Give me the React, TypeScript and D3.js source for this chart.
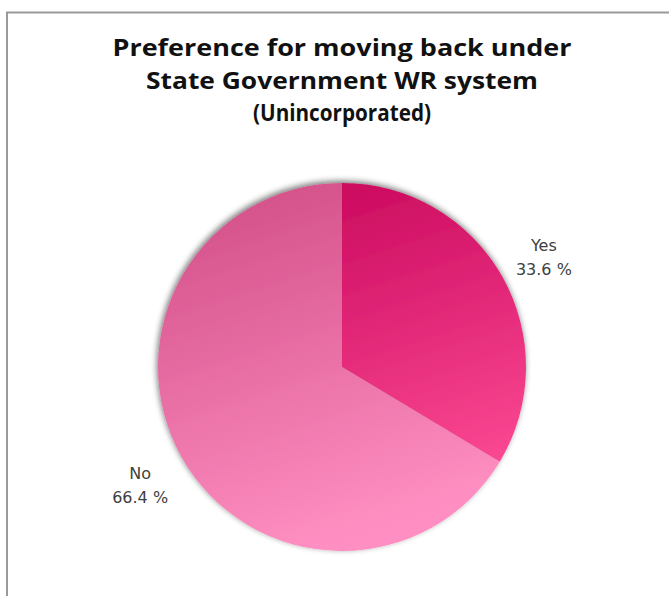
import React from "react";
import * as d3 from "d3";

const categories = ["Yes", "No"];
const values = [33.6, 66.4];
const valueLabels = ["33.6 %", "66.4 %"];
const titleLines = [
  "Preference for moving back under",
  "State Government WR system",
  "(Unincorporated)",
];
const titleWidths = [459, 392, 178];
const gradTop = ["#C8075C", "#D4528A"];
const gradBottom = ["#FF4D97", "#FF8FC2"];

const W = 669;
const H = 596;
const cx = 342;
const cy = 367;
const R = 184;

export default function App() {
  const pie = d3
    .pie<number>()
    .sort(null)
    .startAngle(0)
    .endAngle(2 * Math.PI)
    .value((d) => d);
  const arcs = pie(values);
  const arc = d3.arc<d3.PieArcDatum<number>>().innerRadius(0).outerRadius(R);
  const labelArc = d3
    .arc<d3.PieArcDatum<number>>()
    .innerRadius(232)
    .outerRadius(232);

  return (
    <svg
      width={W}
      height={H}
      style={{ position: "absolute", left: 0, top: 0, background: "#fff" }}
    >
      <defs>
        {categories.map((c, i) => (
          <linearGradient
            key={c}
            id={`g${i}`}
            gradientUnits="userSpaceOnUse"
            x1={-R * 0.3}
            y1={-R}
            x2={R * 0.3}
            y2={R * 0.85}
          >
            <stop offset="0" stopColor={gradTop[i]} />
            <stop offset="1" stopColor={gradBottom[i]} />
          </linearGradient>
        ))}
        <filter id="sh" x="-20%" y="-20%" width="140%" height="140%">
          <feGaussianBlur in="SourceAlpha" stdDeviation="3" />
          <feOffset dx="-1" dy="-2" result="b" />
          <feComponentTransfer>
            <feFuncA type="linear" slope="0.55" />
          </feComponentTransfer>
          <feMerge>
            <feMergeNode />
            <feMergeNode in="SourceGraphic" />
          </feMerge>
        </filter>
      </defs>
      <rect
        x={7}
        y={12.5}
        width={W + 10}
        height={H + 10}
        fill="#fff"
        stroke="#9a9a9a"
        strokeWidth={2}
      />
      <g
        fontFamily="'Open Sans', 'DejaVu Sans', sans-serif"
        fontWeight="bold"
        fontSize={24}
        fill="#111"
        textAnchor="middle"
      >
        {titleLines.map((t, i) => (
          <text
            key={i}
            x={cx}
            y={56 + i * 32.5}
            textLength={titleWidths[i]}
            lengthAdjust="spacingAndGlyphs"
          >
            {t}
          </text>
        ))}
      </g>
      <g transform={`translate(${cx},${cy})`} filter="url(#sh)">
        {arcs.map((a, i) => (
          <path key={i} d={arc(a) || ""} fill={`url(#g${i})`} />
        ))}
      </g>
      <g
        fontFamily="'DejaVu Sans', sans-serif"
        fontSize={16}
        fill="#404040"
        textAnchor="middle"
      >
        {arcs.map((a, i) => {
          const [lx, ly] = labelArc.centroid(a);
          return (
            <g key={i} transform={`translate(${cx + lx},${cy + ly})`}>
              <text y={-2}>{categories[i]}</text>
              <text y={22}>{valueLabels[i]}</text>
            </g>
          );
        })}
      </g>
    </svg>
  );
}
